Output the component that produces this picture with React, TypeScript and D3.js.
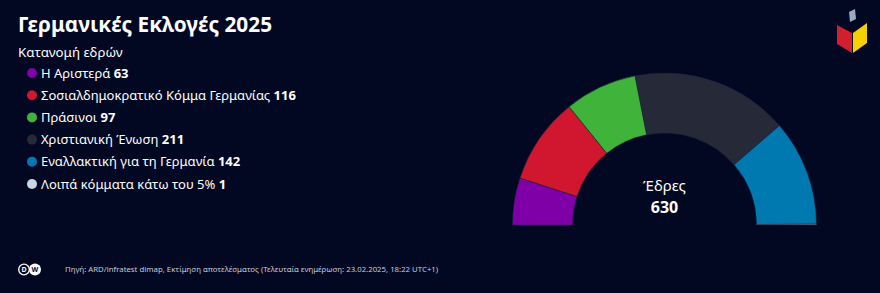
import React from "react";
import * as d3 from "d3";

const parties = [
  "Η Αριστερά",
  "Σοσιαλδημοκρατικό Κόμμα Γερμανίας",
  "Πράσινοι",
  "Χριστιανική Ένωση",
  "Εναλλακτική για τη Γερμανία",
  "Λοιπά κόμματα κάτω του 5%",
];
const seats = [63, 116, 97, 211, 142, 1];
const colors = ["#8000a8", "#d0172f", "#40b33b", "#262a38", "#0079b0", "#c6d8e6"];

const W = 880;
const H = 293;
const BG = "#020722";
const FONT = "'Noto Sans', 'Open Sans', sans-serif";

export default function App() {
  const total = d3.sum(seats);
  const pie = d3
    .pie<number>()
    .sort(null)
    .startAngle(-Math.PI / 2)
    .endAngle(Math.PI / 2)
    .value((d) => d);
  const arcs = pie(seats);
  const arc = d3.arc<d3.PieArcDatum<number>>().innerRadius(92).outerRadius(152);
  const cx = 664.5;
  const cy = 225;
  const legendY = d3.scaleLinear().domain([0, parties.length - 1]).range([73, 184]);

  return (
    <svg width={W} height={H} style={{ position: "absolute", left: 0, top: 0, display: "block" }}>
      <rect width={W} height={H} fill={BG} />
      <text x={18} y={32} fill="#fff" fontFamily={FONT} fontWeight={700} fontSize={20.8}>
        Γερμανικές Εκλογές 2025
      </text>
      <text x={18} y={57} fill="#fff" fontFamily={FONT} fontSize={13.3}>
        Κατανομή εδρών
      </text>
      {parties.map((p, i) => (
        <g key={p} transform={`translate(0,${legendY(i)})`}>
          <circle cx={32} cy={0} r={5} fill={colors[i]} />
          <text x={41} y={4.5} fill="#fff" fontFamily={FONT} fontSize={13}>
            {p} <tspan fontWeight={700}>{seats[i]}</tspan>
          </text>
        </g>
      ))}
      <g transform={`translate(${cx},${cy})`}>
        {arcs.map((a, i) => (
          <path key={i} d={arc(a) || ""} fill={colors[i]} stroke="#1c2240" strokeWidth={0.6} />
        ))}
        <text x={0} y={-34} textAnchor="middle" fill="#fff" fontFamily={FONT} fontSize={15}>
          Έδρες
        </text>
        <text x={0} y={-12} textAnchor="middle" fill="#fff" fontFamily={FONT} fontWeight={700} fontSize={16}>
          {total}
        </text>
      </g>
      {/* ballot box logo */}
      <g>
        <polygon points="849,12 855,9 856,19 850,22" fill="#9aabbd" />
        <polygon points="837,25 852,33 852,53 837,44" fill="#d0202e" />
        <polygon points="853,33 867,23 867,43 853,53" fill="#f6d000" />
      </g>
      {/* DW logo */}
      <g fontFamily={FONT} fontWeight={700} fontSize={7} textAnchor="middle">
        <circle cx={24} cy={269.5} r={5.3} fill="none" stroke="#fff" strokeWidth={1.3} />
        <text x={24} y={272} fill="#fff">D</text>
        <circle cx={35} cy={269.5} r={6} fill="#fff" />
        <text x={35} y={272} fill={BG}>W</text>
      </g>
      <text x={65} y={272} fill="#c8ccd8" fontFamily={FONT} fontSize={7.8}>
        Πηγή: ARD/infratest dimap, Εκτίμηση αποτελέσματος (Τελευταία ενημέρωση: 23.02.2025, 18:22 UTC+1)
      </text>
    </svg>
  );
}
